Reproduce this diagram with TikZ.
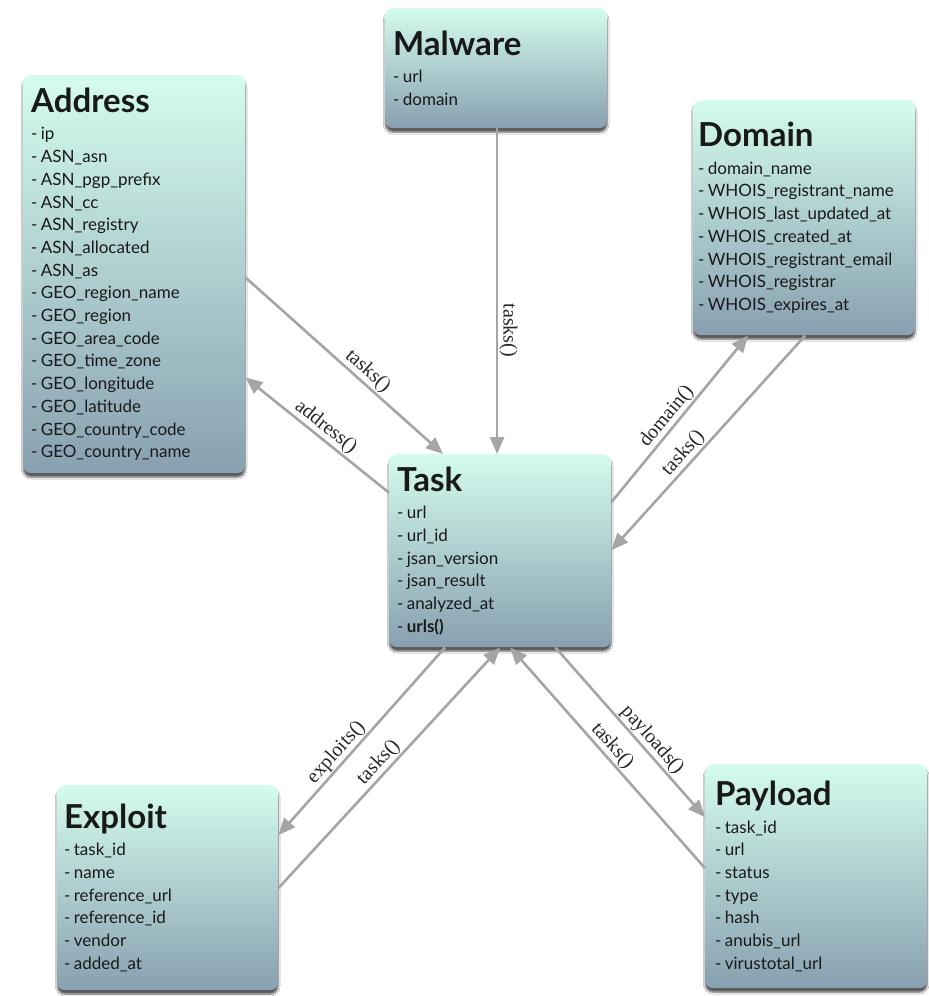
\documentclass[tikz,border=0pt]{standalone}
\usepackage{fontspec}
\setmainfont{Liberation Serif}
\newfontfamily\boxfont{Lato}
\usetikzlibrary{arrows.meta,calc,shadows.blur}
\definecolor{boxtop}{RGB}{212,252,238}
\definecolor{boxbot}{RGB}{136,160,176}
\definecolor{arrowgray}{RGB}{165,165,165}
\newcommand\ttlfont{\fontsize{33}{36}\selectfont\bfseries}
\newcommand\itmfont{\fontsize{17}{22.7}\selectfont\mdseries}
\newcommand\entity[2]{\boxfont\ttlfont #1\par\vspace{5pt}\itmfont #2\par}
\begin{document}
\begin{tikzpicture}[x=1pt,y=-1pt,
  box/.style={draw=none, rounded corners=8pt, top color=boxtop, bottom color=boxbot,
    anchor=north west, minimum width=222pt, text width=206pt, inner xsep=8pt, inner ysep=0pt,
    align=left, text=black!90,
    blur shadow={shadow xshift=0pt, shadow yshift=-4pt, shadow blur steps=6, shadow opacity=65}},
  conn/.style={draw=arrowgray, line width=2.6pt, -{Triangle[length=17pt,width=14pt]}},
  lbl/.style={sloped, above, font=\fontsize{20}{20}\selectfont, text=black!85, inner sep=1pt}]
\useasboundingbox[fill=white] (0,0) rectangle (929,996);

\node[box, minimum height=120pt] (malware) at (385,8)
  {\entity{Malware}{- url\par - domain}};
\node[box, minimum height=398pt] (address) at (23,75)
  {\entity{Address}{- ip\par - ASN\_asn\par - ASN\_pgp\_prefix\par - ASN\_cc\par - ASN\_registry\par - ASN\_allocated\par - ASN\_as\par - GEO\_region\_name\par - GEO\_region\par - GEO\_area\_code\par - GEO\_time\_zone\par - GEO\_longitude\par - GEO\_latitude\par - GEO\_country\_code\par - GEO\_country\_name}};
\node[box, minimum height=235pt, inner xsep=5pt, text width=212pt] (domain) at (693,100)
  {\entity{Domain}{- domain\_name\par - WHOIS\_registrant\_name\par - WHOIS\_last\_updated\_at\par - WHOIS\_created\_at\par - WHOIS\_registrant\_email\par - WHOIS\_registrar\par - WHOIS\_expires\_at}};
\node[box, minimum height=193pt] (task) at (389,454)
  {\entity{Task}{- url\par - url\_id\par - jsan\_version\par - jsan\_result\par - analyzed\_at\par - \textbf{urls()}}};
\node[box, minimum height=205pt, minimum width=221pt, text width=207pt, inner xsep=7pt] (exploit) at (57,785)
  {\entity{Exploit}{- task\_id\par - name\par - reference\_url\par - reference\_id\par - vendor\par - added\_at}};
\node[box, minimum height=224pt, inner xsep=10pt, text width=202pt] (payload) at (705,764)
  {\entity{Payload}{- task\_id\par - url\par - status\par - type\par - hash\par - anubis\_url\par - virustotal\_url}};

% Malware -> Task
\coordinate (mt) at ($(task.north west)!0.486!(task.north east)$);
\draw[conn] (mt |- malware.south) -- node[lbl, pos=0.62] {tasks()} (mt);

% Address <-> Task
\draw[conn] ($(address.north east)!0.508!(address.south east)$) -- node[lbl, pos=0.58] {tasks()}
  ($(task.north west)!0.243!(task.north east)$);
\draw[conn] ($(task.north west)!0.2!(task.south west)$) -- node[lbl, pos=0.49] {address()}
  ($(address.north east)!0.759!(address.south east)$);

% Domain <-> Task
\draw[conn] ($(task.north east)!0.249!(task.south east)$) -- node[lbl, pos=0.47] {domain()}
  ($(domain.south west)!0.248!(domain.south east)$);
\draw[conn] ($(domain.south west)!0.505!(domain.south east)$) -- node[lbl, pos=0.585] {tasks()}
  ($(task.north east)!0.497!(task.south east)$);

% Exploit <-> Task
\draw[conn] ($(task.south west)!0.252!(task.south east)$) -- node[lbl, pos=0.6] {exploits()}
  ($(exploit.north east)!0.244!(exploit.south east)$);
\draw[conn] ($(exploit.north east)!0.502!(exploit.south east)$) -- node[lbl, pos=0.49] {tasks()}
  ($(task.south west)!0.5!(task.south east)$);

% Payload <-> Task
\draw[conn] ($(task.south west)!0.748!(task.south east)$) -- node[lbl, pos=0.59] {payloads()}
  ($(payload.north west)!0.237!(payload.south west)$);
\draw[conn] ($(payload.north west)!0.464!(payload.south west)$) -- node[lbl, pos=0.52] {tasks()}
  ($(task.south west)!0.545!(task.south east)$);
\end{tikzpicture}
\end{document}
